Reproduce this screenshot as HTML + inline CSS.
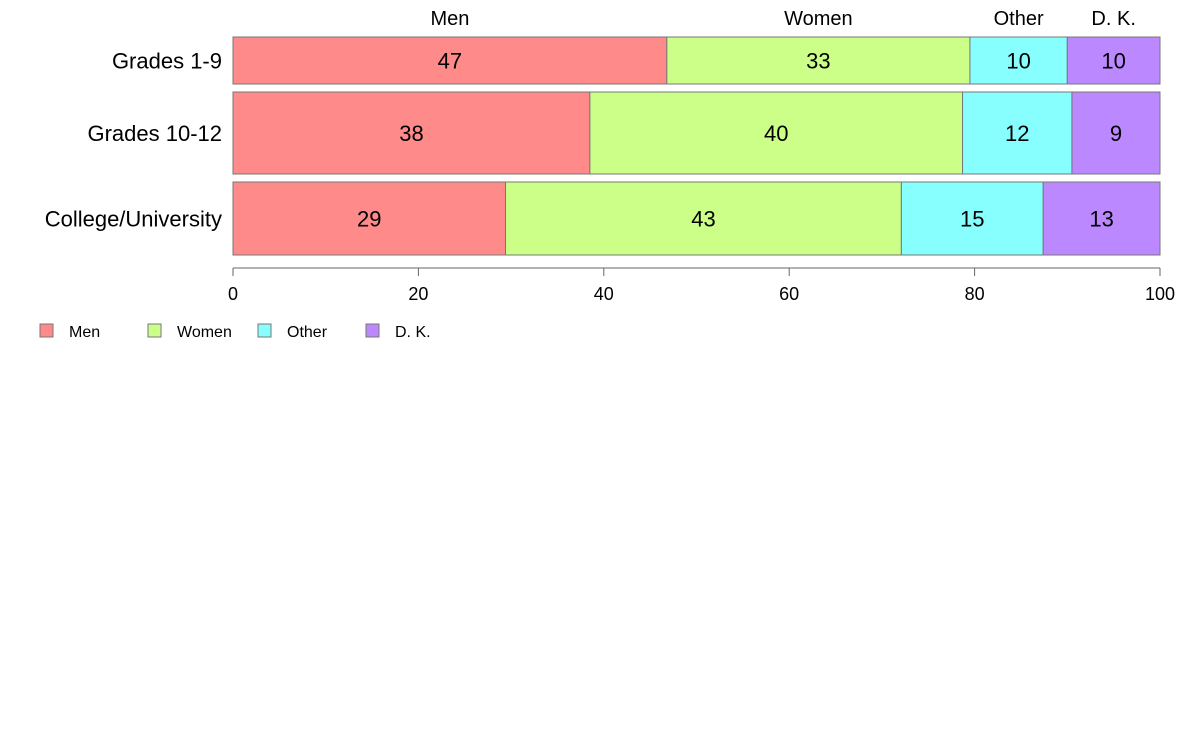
<!DOCTYPE html>
<html><head><meta charset="utf-8"><style>
html,body{margin:0;padding:0;background:#fff;}
svg{display:block;font-family:"Liberation Sans",Arial,sans-serif;}
</style></head><body>
<svg id="chart" width="1188" height="736"></svg>
<script>
const categories = ["Grades 1-9","Grades 10-12","College/University"];
const seriesNames = ["Men","Women","Other","D. K."];
const men = [46.8, 38.5, 29.4];
const women = [32.7, 40.2, 42.7];
const other = [10.5, 11.8, 15.3];
const dk = [10.0, 9.5, 12.6];
const printedMen = ["47","38","29"];
const printedWomen = ["33","40","43"];
const printedOther = ["10","12","15"];
const printedDk = ["10","9","13"];
const rowWeights = [47, 82, 73];
const ticks = [0,20,40,60,80,100];

const colors = ["#ff8a8a","#ccff88","#88ffff","#bb88ff"];
const svgEl = document.getElementById('chart');
const NS = "http://www.w3.org/2000/svg";
const x0 = 233, x1 = 1160;
const xs = v => x0 + (x1 - x0) * v / 100;
const plotTop = 37, plotBottom = 255, rowGap = 8;
const totalW = rowWeights.reduce((a,b)=>a+b,0);
const avail = plotBottom - plotTop - rowGap * (categories.length - 1);
function mk(tag, attrs, text){
  const e = document.createElementNS(NS, tag);
  for (const k in attrs) e.setAttribute(k, attrs[k]);
  if (text !== undefined) e.textContent = text;
  svgEl.appendChild(e); return e;
}
const allSeries = [men, women, other, dk];
const printed = [printedMen, printedWomen, printedOther, printedDk];
let yPos = plotTop;
categories.forEach((c, i) => {
  const h = avail * rowWeights[i] / totalW;
  let acc = 0;
  allSeries.forEach((s, j) => {
    const a = xs(acc), b = xs(acc + s[i]);
    const r = mk('rect', {x:a, y:yPos, width:b-a, height:h, fill:colors[j], stroke:'#777', 'stroke-width':1});
    
    
    const t = mk('text', {x:(a+b)/2, y:yPos+h/2+8, 'text-anchor':'middle', 'font-size':22, fill:'#000'}, printed[j][i]);
    
    
    if (i === 0) {
      const tt = mk('text', {x:(a+b)/2, y:25, 'text-anchor':'middle', 'font-size':20}, seriesNames[j]);
      
      
    }
    acc += s[i];
  });
  const cl = mk('text', {x:222, y:yPos+h/2+8, 'text-anchor':'end', 'font-size':22}, c);
  
  
  yPos += h + rowGap;
});
const ax = mk('line', {x1:x0, x2:x1, y1:268, y2:268, stroke:'#666', 'stroke-width':1});


ticks.forEach(t => {
  const tl = mk('line', {x1:xs(t), x2:xs(t), y1:268, y2:276, stroke:'#666', 'stroke-width':1});
  
  
  const tx = mk('text', {x:xs(t), y:300, 'text-anchor':'middle', 'font-size':18}, String(t));
  
  
});
const legX = [40, 148, 258, 366];
seriesNames.forEach((n, j) => {
  const r = mk('rect', {x:legX[j], y:324, width:13, height:13, fill:colors[j], stroke:'#777', 'stroke-width':1});
  
  
  const t = mk('text', {x:legX[j]+29, y:337, 'font-size':16}, n);
  
  
});
</script>
</body></html>
